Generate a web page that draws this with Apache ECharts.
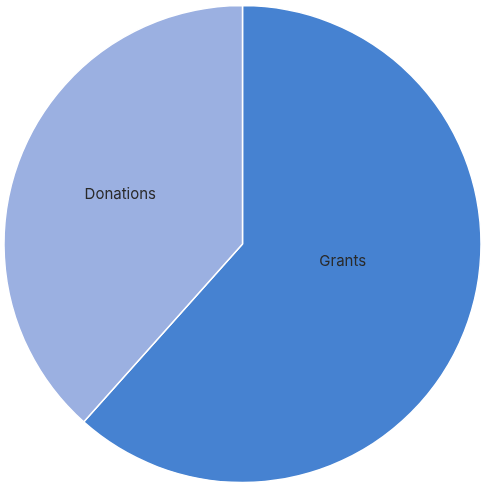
<!DOCTYPE html>
<html><head><meta charset="utf-8">
<script src="https://cdn.jsdelivr.net/npm/echarts@6/dist/echarts.min.js"></script>
<style>html,body{margin:0;padding:0;background:#fff}#c{width:484px;height:485px}</style>
</head><body><div id="c"></div>
<script>
const categories = ["Grants", "Donations"];
const values = [61.6, 38.4];
const colors = ["#4682d1", "#9bb0e1"];
const labelShift = [[-14, -26], [-8, -6]];

const chart = echarts.init(document.getElementById('c'), null, {renderer: 'canvas'});
chart.setOption({
  animation: false,
  series: [{
    type: 'pie',
    center: [242.5, 244],
    radius: [0, 238.5],
    startAngle: 90,
    clockwise: true,
    data: categories.map((c, i) => ({name: c, value: values[i], itemStyle: {color: colors[i]}})),
    itemStyle: {borderColor: '#fff', borderWidth: 1.5},
    label: {position: 'inside', formatter: '{b}', color: '#2a2a2a', fontSize: 15, fontFamily: 'Inter'},
    labelLine: {show: false},
    labelLayout: p => ({dx: labelShift[p.dataIndex][0], dy: labelShift[p.dataIndex][1]}),
    emphasis: {disabled: true}
  }]
});
</script></body></html>
